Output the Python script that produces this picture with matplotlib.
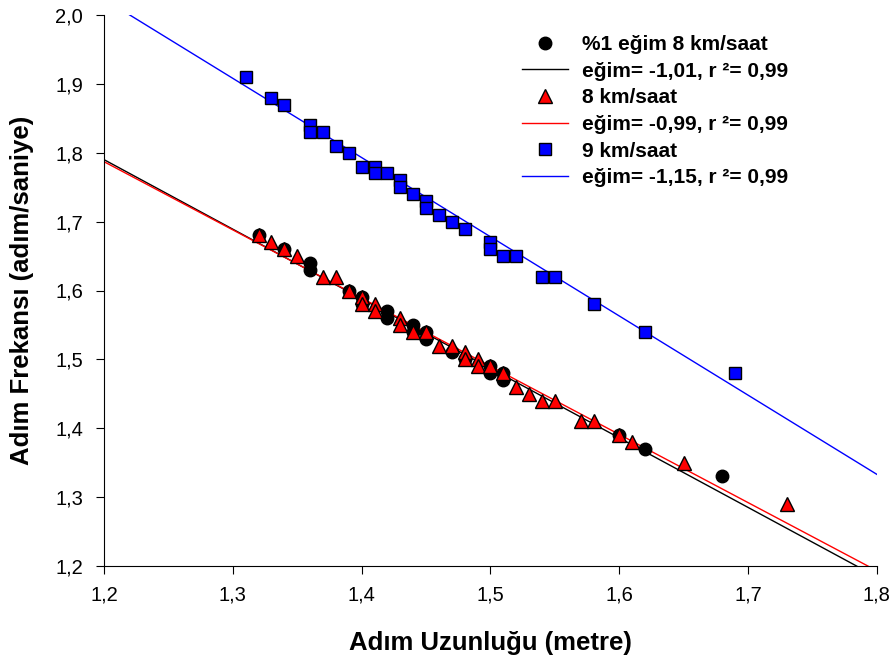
import numpy as np
import matplotlib.pyplot as plt
from matplotlib.ticker import FuncFormatter, MultipleLocator

plt.rcParams['font.family'] = ['Liberation Sans', 'DejaVu Sans']

# %1 egim 8 km/saat
x_egim = [1.32, 1.34, 1.36, 1.36, 1.39, 1.40, 1.40, 1.42, 1.42, 1.44, 1.44,
          1.45, 1.45, 1.47, 1.48, 1.50, 1.50, 1.51, 1.51, 1.60, 1.62, 1.68]
y_egim = [1.68, 1.66, 1.64, 1.63, 1.60, 1.59, 1.58, 1.57, 1.56, 1.55, 1.54,
          1.54, 1.53, 1.51, 1.50, 1.49, 1.48, 1.48, 1.47, 1.39, 1.37, 1.33]

# 8 km/saat
x_8 = [1.32, 1.33, 1.34, 1.35, 1.37, 1.38, 1.39, 1.40, 1.40, 1.41, 1.41,
       1.43, 1.43, 1.44, 1.45, 1.46, 1.47, 1.48, 1.48, 1.49, 1.49, 1.50,
       1.51, 1.52, 1.53, 1.54, 1.55, 1.57, 1.58, 1.60, 1.61, 1.65, 1.73]
y_8 = [1.68, 1.67, 1.66, 1.65, 1.62, 1.62, 1.60, 1.59, 1.58, 1.58, 1.57,
       1.56, 1.55, 1.54, 1.54, 1.52, 1.52, 1.51, 1.50, 1.50, 1.49, 1.49,
       1.48, 1.46, 1.45, 1.44, 1.44, 1.41, 1.41, 1.39, 1.38, 1.35, 1.29]

# 9 km/saat
x_9 = [1.31, 1.33, 1.34, 1.36, 1.36, 1.37, 1.38, 1.39, 1.40, 1.41, 1.41,
       1.42, 1.43, 1.43, 1.44, 1.45, 1.45, 1.46, 1.47, 1.48, 1.50, 1.50,
       1.51, 1.52, 1.54, 1.55, 1.58, 1.62, 1.69]
y_9 = [1.91, 1.88, 1.87, 1.84, 1.83, 1.83, 1.81, 1.80, 1.78, 1.78, 1.77,
       1.77, 1.76, 1.75, 1.74, 1.73, 1.72, 1.71, 1.70, 1.69, 1.67, 1.66,
       1.65, 1.65, 1.62, 1.62, 1.58, 1.54, 1.48]

# regression lines (slope, intercept)
fit_egim = (-1.01, 3.002)
fit_8 = (-0.99, 2.975)
fit_9 = (-1.15, 3.403)


def comma(v, pos):
    return f'{v:.1f}'.replace('.', ',')


fig = plt.figure(figsize=(8.93, 6.64), dpi=100)
ax = fig.add_axes([0.1165, 0.1476, 0.8655, 0.8298])

xx = np.linspace(1.2, 1.8, 200)
ax.plot(xx, fit_egim[0] * xx + fit_egim[1], color='black', lw=1, zorder=2)
ax.plot(xx, fit_8[0] * xx + fit_8[1], color='red', lw=1, zorder=2)
ax.plot(xx, fit_9[0] * xx + fit_9[1], color='blue', lw=1, zorder=2)

ax.plot(x_egim, y_egim, 'o', color='black', ms=9, mec='black', zorder=3)
ax.plot(x_8, y_8, '^', color='red', ms=10, mec='black', mew=1, zorder=4)
ax.plot(x_9, y_9, 's', color='blue', ms=9, mec='black', mew=1, zorder=3)

# legend handles
h1, = ax.plot([], [], 'o', color='black', ms=9)
h2, = ax.plot([], [], color='black', lw=1)
h3, = ax.plot([], [], '^', color='red', ms=10, mec='black')
h4, = ax.plot([], [], color='red', lw=1)
h5, = ax.plot([], [], 's', color='blue', ms=9, mec='black')
h6, = ax.plot([], [], color='blue', lw=1)
ax.legend([h1, h2, h3, h4, h5, h6],
          ['%1 eğim 8 km/saat', 'eğim= -1,01, r ²= 0,99',
           '8 km/saat', 'eğim= -0,99, r ²= 0,99',
           '9 km/saat', 'eğim= -1,15, r ²= 0,99'],
          loc='upper left', bbox_to_anchor=(0.517, 0.998), frameon=False,
          prop={'weight': 'bold', 'size': 15}, handlelength=2.2,
          labelspacing=0.37, handletextpad=0.65)

ax.set_xlim(1.2, 1.8)
ax.set_ylim(1.2, 2.0)
ax.xaxis.set_major_locator(MultipleLocator(0.1))
ax.yaxis.set_major_locator(MultipleLocator(0.1))
ax.xaxis.set_major_formatter(FuncFormatter(comma))
ax.yaxis.set_major_formatter(FuncFormatter(comma))
ax.spines['top'].set_visible(False)
ax.spines['right'].set_visible(False)
ax.tick_params(direction='out', length=6, labelsize=14.5)
ax.tick_params(axis='x', pad=8)
ax.tick_params(axis='y', pad=9)

ax.set_xlabel('Adım Uzunluğu (metre)', fontsize=18.5, fontweight='bold',
              labelpad=19)
ax.set_ylabel('Adım Frekansı (adım/saniye)', fontsize=18.5, fontweight='bold',
              labelpad=15)

fig.savefig('out.png', dpi=100)
